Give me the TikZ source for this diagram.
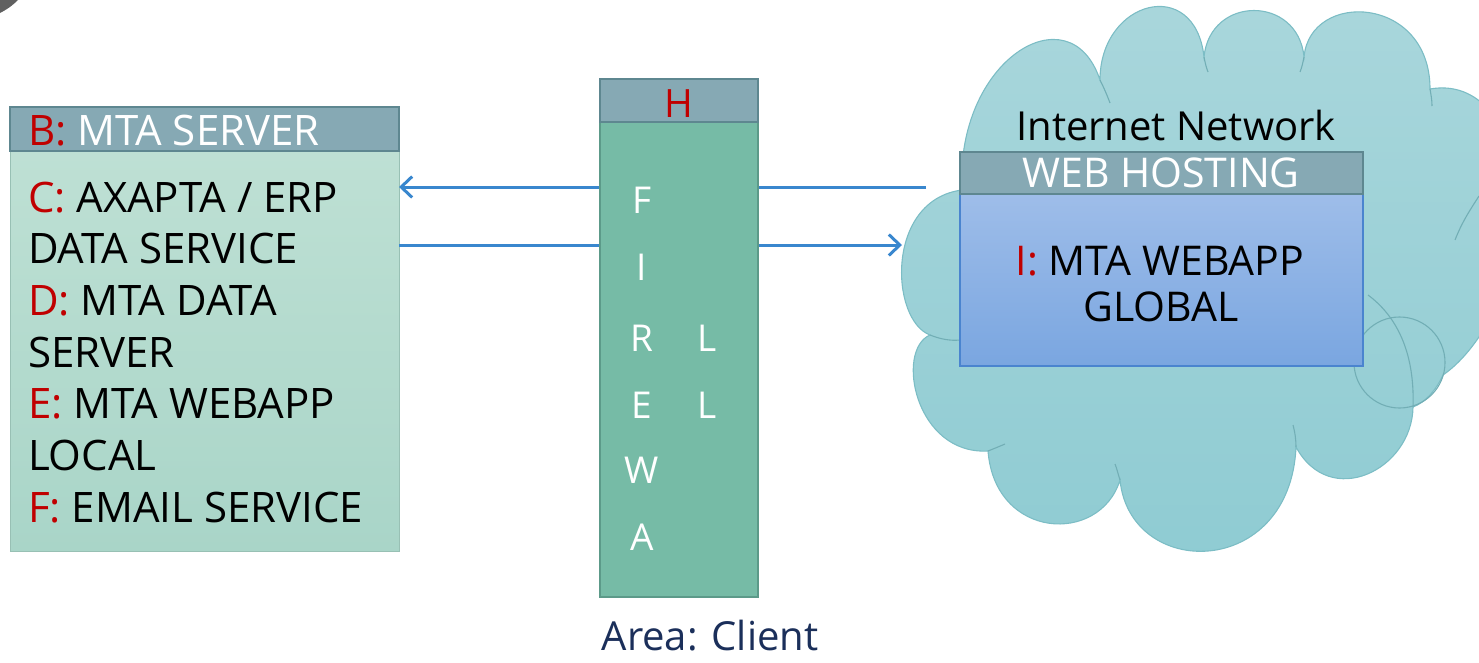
\documentclass[tikz,border=0pt]{standalone}
\usepackage{fontspec}
\setmainfont{Open Sans}
\usetikzlibrary{arrows.meta}
\definecolor{hdrfill}{HTML}{86A9B4}
\definecolor{hdrline}{HTML}{5E8790}
\definecolor{mintT}{HTML}{BEE0D4}
\definecolor{mintB}{HTML}{A9D5C8}
\definecolor{fwfill}{HTML}{76BBA6}
\definecolor{fwline}{HTML}{5C9A89}
\definecolor{cloudT}{HTML}{AAD7DC}
\definecolor{cloudB}{HTML}{8ECBD2}
\definecolor{cloudline}{HTML}{7CBDC5}
\definecolor{webT}{HTML}{9EBDE9}
\definecolor{webB}{HTML}{7AA6E0}
\definecolor{webline}{HTML}{4A84CF}
\definecolor{lbl}{HTML}{C00000}
\definecolor{arrowc}{HTML}{3987CE}
\definecolor{navy}{HTML}{1B2F5A}
\begin{document}
\begin{tikzpicture}[x=1pt,y=-1pt,
  box/.style={rectangle, inner sep=0pt, outer sep=0pt, anchor=north west},
  hdrbox/.style={box, fill=hdrfill, draw=hdrline, line width=1.2pt},
  mintbox/.style={box, top color=mintT, bottom color=mintB, draw=mintB!90!black, line width=0.6pt},
  fwbox/.style={box, fill=fwfill, draw=fwline, line width=1.2pt},
  webbox/.style={box, top color=webT, bottom color=webB, draw=webline, line width=1.2pt},
  txt/.style={inner sep=0pt, outer sep=0pt, anchor=base west, font=\fontsize{42}{52}\selectfont},
  ctxt/.style={inner sep=0pt, outer sep=0pt, anchor=base},
  fwl/.style={ctxt, text=white, font=\fontsize{37}{40}\selectfont},
  arr/.style={draw=arrowc, line width=3pt, -{Straight Barb[length=11pt,width=21pt]}},
  cloudarc/.style={draw=cloudline!92!black, line width=1.1pt}
]
\useasboundingbox (0,0) rectangle (1479,662);

% corner artifact
\fill[gray!75!black] (0,0) -- (18,0) .. controls (12,6) and (6,10) .. (0,13) -- cycle;

% cloud
\path[top color=cloudT, bottom color=cloudB, draw=cloudline, line width=1.1pt]
  (962,190) .. controls (955,60) and (1070,-10) .. (1100,80)
  .. controls (1100,0) and (1195,-25) .. (1204,57)
  .. controls (1210,-5) and (1298,-5) .. (1304,57)
  .. controls (1310,-10) and (1430,-5) .. (1430,89)
  .. controls (1510,75) and (1540,200) .. (1505,285)
  .. controls (1495,315) and (1472,355) .. (1443,375)
  .. controls (1436,390) and (1426,402) .. (1413,407)
  .. controls (1412,470) and (1330,510) .. (1296,447)
  .. controls (1290,580) and (1130,580) .. (1120,480)
  .. controls (1100,545) and (995,540) .. (988,451)
  .. controls (915,455) and (895,350) .. (930,335)
  .. controls (890,320) and (885,200) .. (962,190) -- cycle;
% inner arcs of the cloud
\draw[cloudarc] (1399.5,362.5) circle[radius=45.5];
\draw[cloudarc] (1368,295) .. controls (1395,315) and (1415,350) .. (1413,407);
\draw[cloudarc] (930,335) .. controls (940,339) and (950,341) .. (960,340);
\draw[cloudarc] (1100,80) .. controls (1104,88) and (1107,95) .. (1110,103);
\draw[cloudarc] (1204,57) .. controls (1205,62) and (1206,67) .. (1208,72);
\draw[cloudarc] (1304,57) .. controls (1303,62) and (1302,67) .. (1300,72);
\draw[cloudarc] (1430,89) .. controls (1431,95) and (1432,100) .. (1432,106);
\draw[cloudarc] (1479,196) .. controls (1470,210) and (1462,222) .. (1455,240);
\draw[cloudarc] (1296,447) .. controls (1296,440) and (1295,432) .. (1293,425);
\draw[cloudarc] (1120,480) .. controls (1118,474) and (1117,469) .. (1115,464);
\draw[cloudarc] (988,451) .. controls (993,449) and (998,447) .. (1005,444);

% left server box
\node[mintbox, minimum width=389pt, minimum height=400pt] (bbody) at (10,151) {};
\node[hdrbox, minimum width=389pt, minimum height=44pt] (bhdr) at (10,107) {};
\node[txt] (tB) at (28,145) {{\color{lbl}B:} {\color{white}MTA SERVER}};
\node[txt] (tC1) at (28,212) {{\color{lbl}C:} AXAPTA / ERP};
\node[txt] (tC2) at (28,263) {DATA SERVICE};
\node[txt] (tD1) at (28,315) {{\color{lbl}D:} MTA DATA};
\node[txt] (tD2) at (28,367) {SERVER};
\node[txt] (tE1) at (28,418) {{\color{lbl}E:} MTA WEBAPP};
\node[txt] (tE2) at (28,470) {LOCAL};
\node[txt] (tF) at (28,522) {{\color{lbl}F:} EMAIL SERVICE};

% connectors
\coordinate (t1) at (926,187);
\coordinate (t2) at (902,245);
\draw[arr] (t1) -- (t1 -| bbody.east);
\draw[arr] (t2 -| bbody.east) -- (t2);

% firewall
\node[fwbox, minimum width=158pt, minimum height=475pt] (fwb) at (600,122) {};
\node[hdrbox, minimum width=158pt, minimum height=43pt] (fwh) at (600,79) {};
\node[ctxt, text=lbl, font=\fontsize{39}{40}\selectfont] (tH) at (679,117) {H};
\node[fwl] (w1) at (642,213) {F};
\node[fwl] (w2) at (642,280) {I};
\node[fwl] (w3) at (642,351) {R};
\node[fwl] (w4) at (642,418) {E};
\node[fwl] (w5) at (642,483) {W};
\node[fwl] (w6) at (642,550) {A};
\node[fwl] (w7) at (707,351) {L};
\node[fwl] (w8) at (707,418) {L};

% web hosting
\node[ctxt, font=\fontsize{40}{44}\selectfont] (tNet) at (1176,140) {Internet Network};
\node[webbox, minimum width=403pt, minimum height=172pt] (wb) at (960,194) {};
\node[hdrbox, minimum width=403pt, minimum height=42pt] (wh) at (960,152) {};
\node[ctxt, text=white, font=\fontsize{41}{44}\selectfont] (tWH) at (1161,187) {WEB HOSTING};
\node[ctxt, font=\fontsize{41}{44}\selectfont] (tI1) at (1160,275) {{\color{lbl}I:} MTA WEBAPP};
\node[ctxt, font=\fontsize{41}{44}\selectfont] (tI2) at (1161,321) {GLOBAL};

% area label
\node[ctxt, text=navy, font=\fontsize{40}{44}\selectfont] (tArea) at (710,650) {Area: Client};
\end{tikzpicture}
\end{document}
